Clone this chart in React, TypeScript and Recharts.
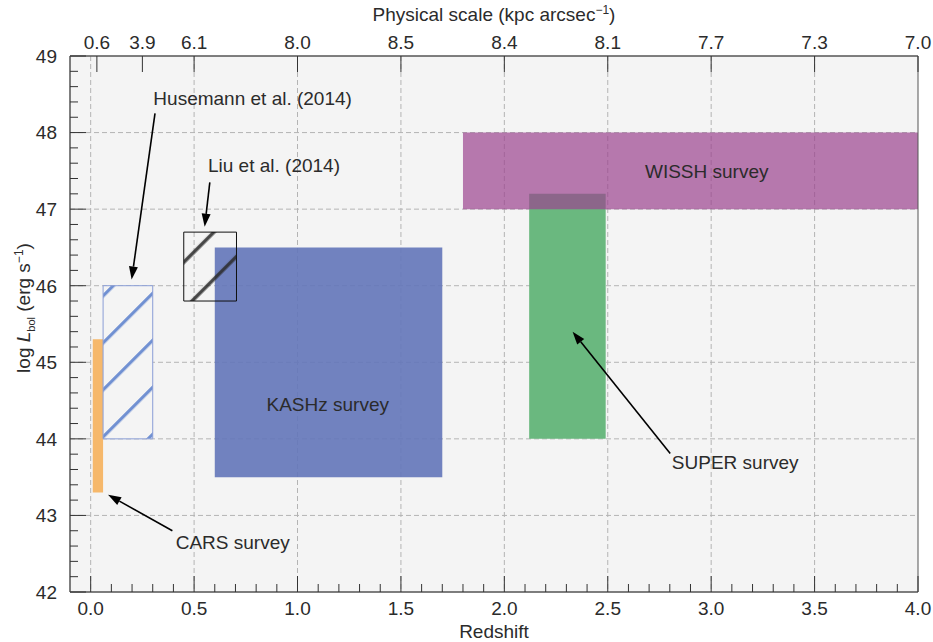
import React from "react";
import {
  ComposedChart,
  XAxis,
  YAxis,
  CartesianGrid,
  ReferenceArea,
  ReferenceLine,
  ReferenceDot,
  Scatter,
} from "recharts";

// redshift ticks (minor every 0.1, labelled every 0.5)
const zTicks = [
  0, 0.1, 0.2, 0.3, 0.4, 0.5, 0.6, 0.7, 0.8, 0.9, 1.0, 1.1, 1.2, 1.3, 1.4,
  1.5, 1.6, 1.7, 1.8, 1.9, 2.0, 2.1, 2.2, 2.3, 2.4, 2.5, 2.6, 2.7, 2.8, 2.9,
  3.0, 3.1, 3.2, 3.3, 3.4, 3.5, 3.6, 3.7, 3.8, 3.9, 4.0,
];
// log Lbol ticks (minor every 0.2)
const lTicks = [
  42, 42.2, 42.4, 42.6, 42.8, 43, 43.2, 43.4, 43.6, 43.8, 44, 44.2, 44.4,
  44.6, 44.8, 45, 45.2, 45.4, 45.6, 45.8, 46, 46.2, 46.4, 46.6, 46.8, 47,
  47.2, 47.4, 47.6, 47.8, 48, 48.2, 48.4, 48.6, 48.8, 49,
];
// top axis: physical scale at given redshift
const scaleZ = [0.03, 0.25, 0.5, 1.0, 1.5, 2.0, 2.5, 3.0, 3.5, 4.0];
const scaleLabels = ["0.6", "3.9", "6.1", "8.0", "8.5", "8.4", "8.1", "7.7", "7.3", "7.0"];

const gridZ = [0, 0.5, 1.0, 1.5, 2.0, 2.5, 3.0, 3.5];
const gridL = [43, 44, 45, 46, 47, 48];

// survey boxes
const surveyIds = ["cars", "husemann", "kashz", "liu", "super", "wissh"];
const surveyZMin = [0.01, 0.06, 0.6, 0.45, 2.12, 1.8];
const surveyZMax = [0.06, 0.3, 1.7, 0.705, 2.49, 4.0];
const surveyLMin = [43.3, 44.0, 43.5, 45.8, 44.0, 47.0];
const surveyLMax = [45.3, 46.0, 46.5, 46.7, 47.2, 48.0];

// annotations
const noteText = [
  "Husemann et al. (2014)",
  "Liu et al. (2014)",
  "CARS survey",
  "SUPER survey",
  "KASHz survey",
  "WISSH survey",
];
const noteZ = [0.303, 0.567, 0.411, 2.81, 0.85, 2.68];
const noteL = [48.36, 47.49, 42.56, 43.6, 44.36, 47.41];

const arrowFromZ = [0.311, 0.576, 0.395, 2.802];
const arrowFromL = [48.25, 47.35, 42.8, 43.81];
const arrowToZ = [0.198, 0.551, 0.084, 2.33];
const arrowToL = [46.08, 46.77, 43.27, 45.4];

// box corners, only so the axes have something to scale against
const corners = surveyIds.flatMap((id, i) => [
  { z: surveyZMin[i], l: surveyLMin[i] },
  { z: surveyZMax[i], l: surveyLMax[i] },
]);

const INK = "#2b2b2b";
const FONT = "'Liberation Sans', Arial, sans-serif";

const boxStyle: Record<string, any> = {
  cars: { fill: "#f6b86b", fillOpacity: 1 },
  husemann: { fill: "url(#hatchBlue)", fillOpacity: 1, stroke: "#8a9dd6", strokeWidth: 1 },
  kashz: { fill: "#6375b9", fillOpacity: 0.9 },
  liu: { fill: "url(#hatchDark)", fillOpacity: 1, stroke: "#111", strokeWidth: 1 },
  super: { fill: "#6ab87f", fillOpacity: 1 },
  wissh: { fill: "#9b438f", fillOpacity: 0.7 },
};

const BottomTick = (p: any) => {
  const v = p.payload.value;
  const major = Math.abs(v * 2 - Math.round(v * 2)) < 1e-6;
  return (
    <g>
      <line x1={p.x} y1={p.y} x2={p.x} y2={p.y - (major ? 16 : 8)} stroke="#333" />
      {major && (
        <text x={p.x} y={p.y + 23} textAnchor="middle" fontSize={19} fill={INK}>
          {v.toFixed(1)}
        </text>
      )}
    </g>
  );
};

const TopTick = (p: any) => {
  const i = scaleZ.indexOf(p.payload.value);
  return (
    <g>
      <line x1={p.x} y1={p.y} x2={p.x} y2={p.y + 16} stroke="#333" />
      <text x={p.x} y={p.y - 7} textAnchor="middle" fontSize={19} fill={INK}>
        {scaleLabels[i]}
      </text>
    </g>
  );
};

const LeftTick = (p: any) => {
  const v = p.payload.value;
  const major = Math.abs(v - Math.round(v)) < 1e-6;
  return (
    <g>
      <line x1={p.x} y1={p.y} x2={p.x + (major ? 16 : 8)} y2={p.y} stroke="#333" />
      {major && (
        <text x={p.x - 13} y={p.y} dy="0.36em" textAnchor="end" fontSize={19} fill={INK}>
          {Math.round(v)}
        </text>
      )}
    </g>
  );
};

const Arrow = (p: any) => {
  const { x1, y1, x2, y2 } = p;
  const dx = x2 - x1;
  const dy = y2 - y1;
  const len = Math.hypot(dx, dy) || 1;
  const ux = dx / len;
  const uy = dy / len;
  const head = 13;
  const hw = 4.5;
  const bx = x2 - ux * head;
  const by = y2 - uy * head;
  return (
    <g>
      <line x1={x1} y1={y1} x2={bx} y2={by} stroke="#000" strokeWidth={1.6} />
      <polygon
        points={`${x2},${y2} ${bx - uy * hw},${by + ux * hw} ${bx + uy * hw},${by - ux * hw}`}
        fill="#000"
      />
    </g>
  );
};

const TopTitle = (p: any) => {
  const vb = p.viewBox || { x: 70, y: 0, width: 848 };
  return (
    <text x={vb.x + vb.width / 2} y={vb.y + 21} textAnchor="middle" fontSize={19} fill={INK}>
      Physical scale (kpc arcsec
      <tspan fontSize={12} dy={-7}>−1</tspan>
      <tspan dy={7}>)</tspan>
    </text>
  );
};

const BottomTitle = (p: any) => {
  const vb = p.viewBox || { x: 70, y: 592, width: 848 };
  return (
    <text x={vb.x + vb.width / 2} y={vb.y + 46} textAnchor="middle" fontSize={19} fill={INK}>
      Redshift
    </text>
  );
};

const LeftTitle = (p: any) => {
  const vb = p.viewBox || { x: 0, y: 56, height: 536 };
  const cx = vb.x + 30;
  const cy = vb.y + vb.height / 2 - 16;
  return (
    <text
      x={cx}
      y={cy}
      transform={`rotate(-90 ${cx} ${cy})`}
      textAnchor="middle"
      fontSize={19}
      fill={INK}
    >
      log <tspan fontStyle="italic">L</tspan>
      <tspan fontSize={11} dy={5}>bol</tspan>
      <tspan dy={-5}> (erg s</tspan>
      <tspan fontSize={12} dy={-7}>−1</tspan>
      <tspan dy={7}>)</tspan>
    </text>
  );
};

export default function App() {
  return (
    <div style={{ position: "absolute", left: 0, top: 0, background: "#fff" }}>
      <ComposedChart
        width={933}
        height={642}
        data={corners}
        margin={{ top: 0, right: 15, bottom: 0, left: 0 }}
        style={{ fontFamily: FONT }}
      >
        <defs>
          <pattern
            id="hatchBlue"
            patternUnits="userSpaceOnUse"
            width={33.23}
            height={33.23}
            patternTransform="rotate(45)"
          >
            <rect width={33.23} height={33.23} fill="#f4f4f4" />
            <line x1={16.3} y1={-1} x2={16.3} y2={35} stroke="#7090d2" strokeWidth={3.2} />
          </pattern>
          <pattern
            id="hatchDark"
            patternUnits="userSpaceOnUse"
            width={33.23}
            height={33.23}
            patternTransform="rotate(45)"
          >
            <line
              x1={16.3}
              y1={-1}
              x2={16.3}
              y2={35}
              stroke="#2a2a2a"
              strokeOpacity={0.85}
              strokeWidth={3.6}
            />
          </pattern>
        </defs>
        <CartesianGrid
          fill="#f4f4f4"
          fillOpacity={1}
          stroke="#b4b4b4"
          strokeDasharray="5 3"
          verticalValues={gridZ}
          horizontalValues={gridL}
        />
        <XAxis
          type="number"
          dataKey="z"
          domain={[-0.1, 4.0]}
          allowDataOverflow
          ticks={zTicks}
          interval={0}
          height={50}
          tickSize={0}
          tickMargin={0}
          tickLine={false}
          tick={BottomTick}
          axisLine={{ stroke: "#555" }}
          label={BottomTitle}
        />
        <XAxis
          xAxisId="top"
          orientation="top"
          type="number"
          dataKey="z"
          domain={[-0.1, 4.0]}
          allowDataOverflow
          ticks={scaleZ}
          interval={0}
          height={56}
          tickSize={0}
          tickMargin={0}
          tickLine={false}
          tick={TopTick}
          axisLine={{ stroke: "#555" }}
          label={TopTitle}
        />
        <YAxis
          type="number"
          dataKey="l"
          domain={[42, 49]}
          allowDataOverflow
          ticks={lTicks}
          interval={0}
          width={70}
          tickSize={0}
          tickMargin={0}
          tickLine={false}
          tick={LeftTick}
          axisLine={{ stroke: "#555" }}
          label={LeftTitle}
        />
        <Scatter
          dataKey="l"
          fill="none"
          shape={() => <g />}
          isAnimationActive={false}
        />
        <Scatter
          xAxisId="top"
          dataKey="l"
          fill="none"
          shape={() => <g />}
          isAnimationActive={false}
        />
        {surveyIds.map((id, i) => (
          <ReferenceArea
            key={id}
            x1={surveyZMin[i]}
            x2={surveyZMax[i]}
            y1={surveyLMin[i]}
            y2={surveyLMax[i]}
            strokeWidth={0}
            {...boxStyle[id]}
          />
        ))}
        <ReferenceArea
          x1={-0.1}
          x2={4.0}
          y1={42}
          y2={49}
          fill="none"
          stroke="#555"
          strokeWidth={1}
        />
        {arrowFromZ.map((z, i) => (
          <ReferenceLine
            key={"arrow" + i}
            segment={[
              { x: z, y: arrowFromL[i] },
              { x: arrowToZ[i], y: arrowToL[i] },
            ]}
            shape={Arrow}
          />
        ))}
        {noteText.map((t, i) => (
          <ReferenceDot
            key={t}
            x={noteZ[i]}
            y={noteL[i]}
            r={0}
            shape={(p: any) => (
              <text x={p.cx} y={p.cy} fontSize={19} fill={INK}>
                {t}
              </text>
            )}
          />
        ))}
      </ComposedChart>
    </div>
  );
}
